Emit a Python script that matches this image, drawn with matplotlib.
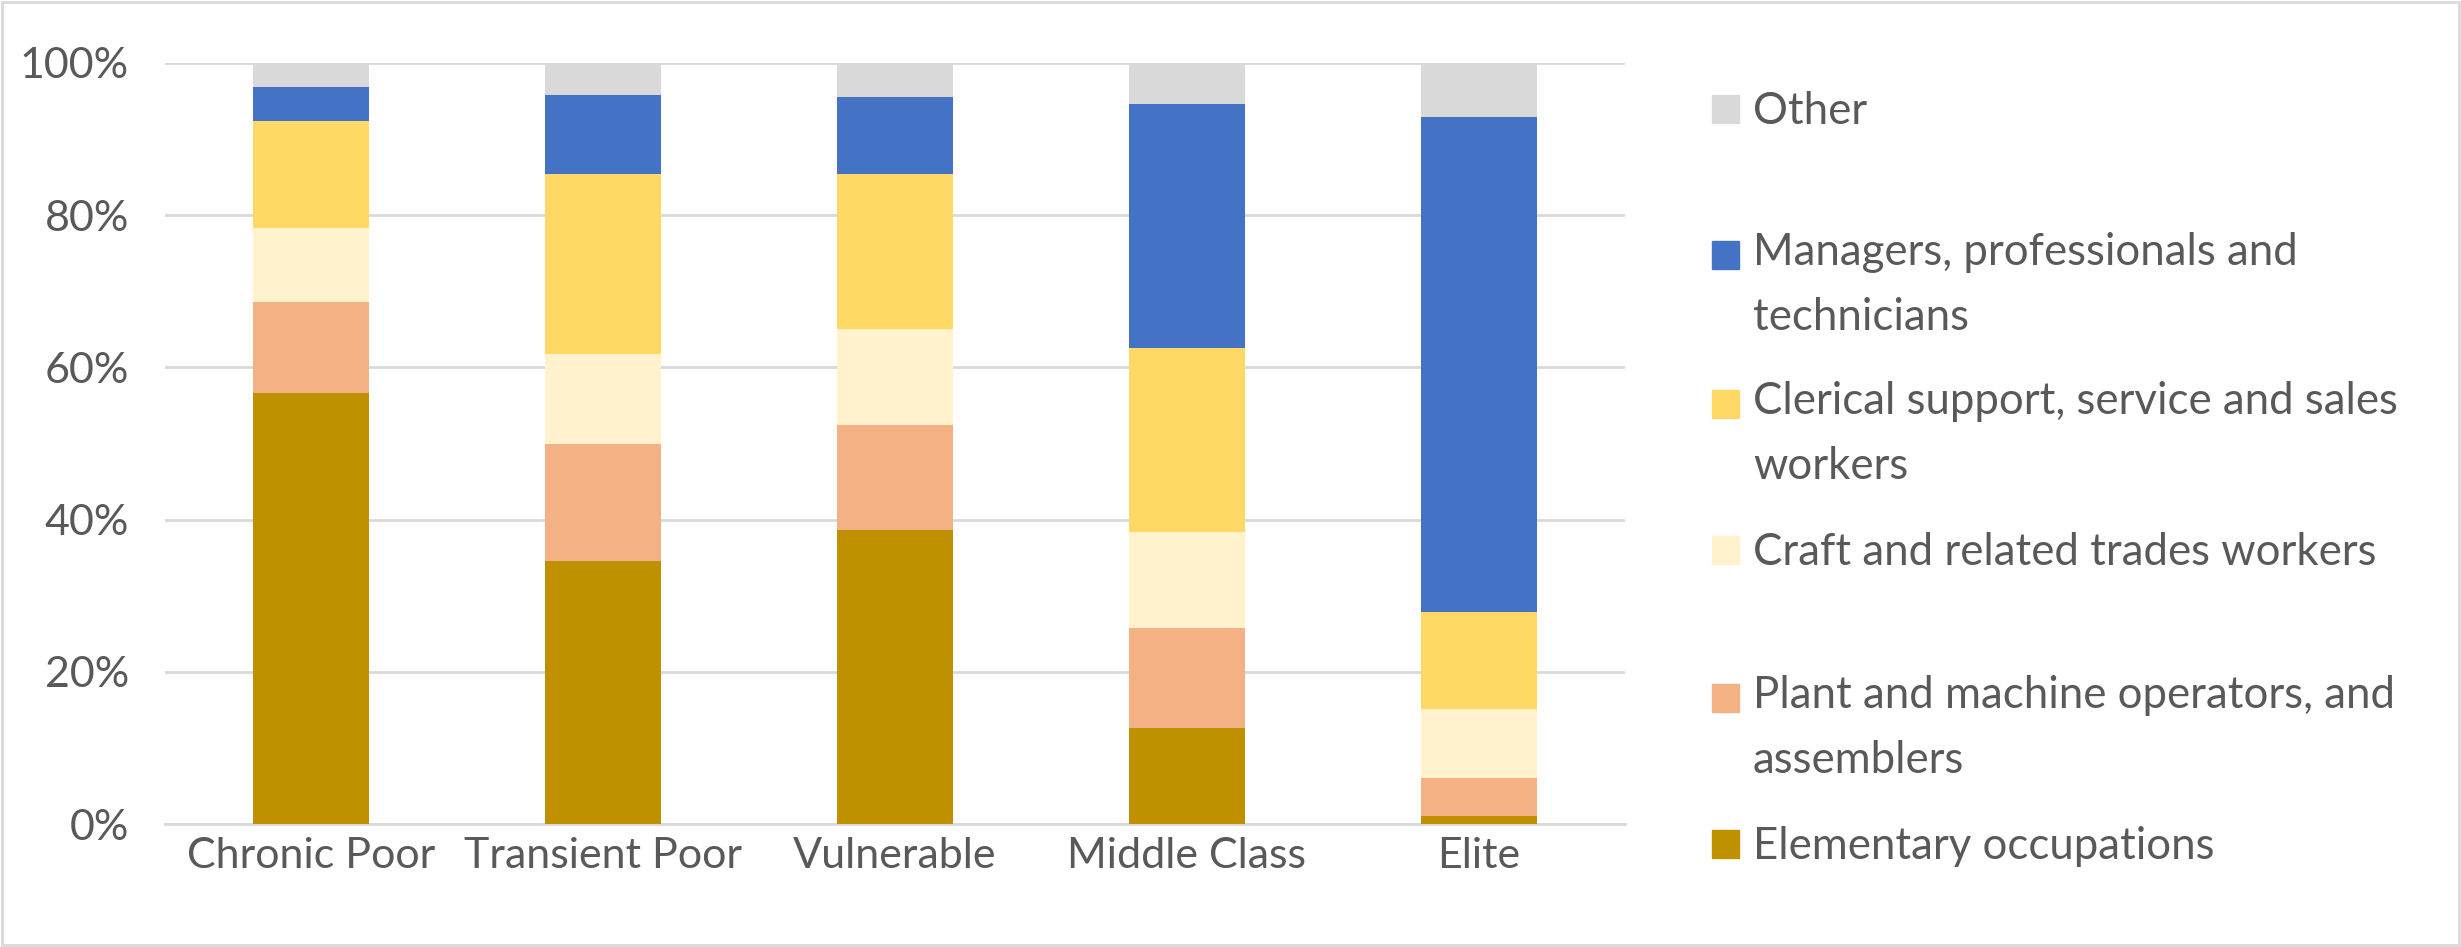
import numpy as np
import matplotlib as mpl
import matplotlib.pyplot as plt
from matplotlib.patches import Rectangle
from matplotlib.ticker import PercentFormatter

plt.rcParams.update({
    'font.family': ['Lato', 'DejaVu Sans'],
    'text.color': '#595959',
    'xtick.color': '#595959',
    'ytick.color': '#595959',
})

# share of workers by occupation group, per class (percent)
groups = ["Chronic Poor", "Transient Poor", "Vulnerable", "Middle Class", "Elite"]
elementary = [56.7, 34.6, 38.6, 12.6, 1.0]
plant = [11.9, 15.4, 13.8, 13.1, 5.0]
craft = [9.7, 11.7, 12.7, 12.7, 9.1]
clerical = [14.1, 23.7, 20.3, 24.1, 12.8]
managers = [4.4, 10.4, 10.1, 32.1, 65.0]
other = [3.2, 4.2, 4.5, 5.4, 7.1]

series = [
    ("Elementary occupations", elementary, "#bf9000"),
    ("Plant and machine operators, and\nassemblers", plant, "#f4b183"),
    ("Craft and related trades workers", craft, "#fff2cc"),
    ("Clerical support, service and sales\nworkers", clerical, "#ffd966"),
    ("Managers, professionals and\ntechnicians", managers, "#4472c4"),
    ("Other", other, "#d9d9d9"),
]

W, H = 2461, 947
fig = plt.figure(figsize=(W / 100, H / 100), dpi=100)
ax = fig.add_axes([165 / W, 1 - 824 / H, 1460 / W, 761 / H])

x = np.arange(len(groups))
bottom = np.zeros(len(groups))
for name, vals, col in series:
    ax.bar(x, vals, bottom=bottom, width=0.40, color=col, zorder=3)
    bottom += np.array(vals)

ax.set_xlim(-0.5, len(groups) - 0.5)
ax.set_ylim(0, 100)
ax.set_yticks(np.arange(0, 101, 20))
ax.yaxis.set_major_formatter(PercentFormatter(decimals=0))
ax.set_xticks(x)
ax.set_xticklabels(groups)
ax.tick_params(axis='both', length=0, labelsize=31)
ax.tick_params(axis='y', pad=26)
ax.tick_params(axis='x', pad=9)
ax.grid(axis='y', color='#d9d9d9', linewidth=2, zorder=0)
for s in ['top', 'right', 'left']:
    ax.spines[s].set_visible(False)
ax.spines['bottom'].set_color('#d9d9d9')
ax.spines['bottom'].set_linewidth(2)

# legend drawn by hand so markers line up with the first text line
legend_y = [844, 698, 550, 404, 255, 109]
line_gap = 60
for (name, vals, col), yc in zip(series, legend_y):
    fig.add_artist(Rectangle((1712 / W, 1 - (yc + 14) / H), 27 / W, 28 / H,
                             transform=fig.transFigure, color=col))
    # baseline of a multi-line text is the last line's baseline
    base = yc + 15 + line_gap * name.count("\n")
    fig.text(1753 / W, 1 - base / H, name, fontsize=31.5, va='baseline',
             ha='left', linespacing=1.72, transform=fig.transFigure)

# chart border
fig.add_artist(Rectangle((0.001, 0.002), 0.998, 0.996, transform=fig.transFigure,
                         fill=False, edgecolor='#d9d9d9', linewidth=2))

fig.savefig("out.png", dpi=100)
